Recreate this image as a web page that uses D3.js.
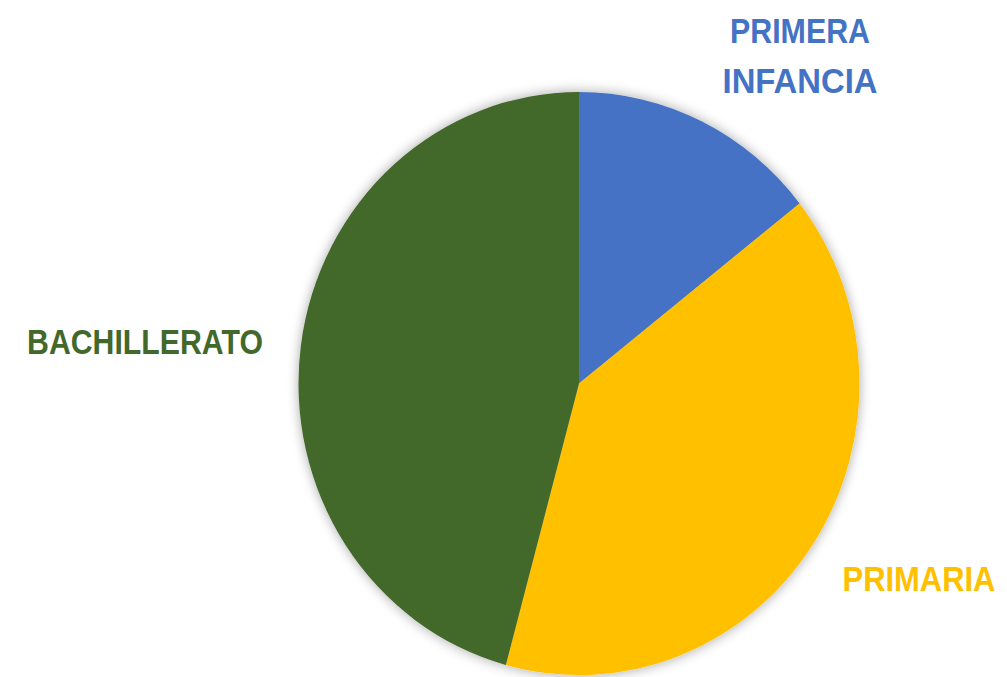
<!DOCTYPE html>
<html><head><meta charset="utf-8">
<script src="https://cdn.jsdelivr.net/npm/d3@7/dist/d3.min.js"></script>
<style>
html,body{margin:0;padding:0;background:#fff;}
svg{display:block;}
text{font-family:"Liberation Sans",Arial,sans-serif;font-weight:bold;}
</style></head>
<body>
<svg id="chart" width="1007" height="677"></svg>
<script>
const categories = ["PRIMERA INFANCIA", "PRIMARIA", "BACHILLERATO"];
const values = [14.4, 39.8, 45.8];
const colors = ["#4472C4", "#FFC000", "#43682B"];
const labelLines = [["PRIMERA", "INFANCIA"], ["PRIMARIA"], ["BACHILLERATO"]];

const svg = d3.select("#chart");
const cx = 579, cy = 383.5, r = 280.5, sy = 291.5 / 280.5;

const defs = svg.append("defs");
const f = defs.append("filter").attr("id", "sh").attr("x", "-20%").attr("y", "-20%").attr("width", "140%").attr("height", "140%");
f.append("feGaussianBlur").attr("in", "SourceAlpha").attr("stdDeviation", 6).attr("result", "b");
f.append("feComponentTransfer").attr("in", "b").attr("result", "c")
  .append("feFuncA").attr("type", "linear").attr("slope", 0.35);
const m = f.append("feMerge");
m.append("feMergeNode").attr("in", "c");
m.append("feMergeNode").attr("in", "SourceGraphic");

const pie = d3.pie().sort(null).value(d => d)(values);
const arc = d3.arc().innerRadius(0).outerRadius(r);

const g = svg.append("g").attr("transform", `translate(${cx},${cy}) scale(1,${sy})`).attr("filter", "url(#sh)");
g.selectAll("path").data(pie).join("path")
  .attr("d", arc)
  .attr("fill", (d, i) => colors[i]);

// label positions (center x, baselines, target widths)
const labelPos = [
  {x: 800, ys: [43, 93], widths: [140, 155]},
  {x: 919, ys: [591], widths: [153]},
  {x: 145, ys: [354], widths: [236]}
];
labelLines.forEach((lines, i) => {
  lines.forEach((t, j) => {
    const txt = svg.append("text")
      .attr("x", 0)
      .attr("y", 0)
      .attr("text-anchor", "middle")
      .attr("font-size", 36)
      .attr("fill", colors[i])
      .text(t);
    const len = txt.node().getComputedTextLength();
    const k = labelPos[i].widths[j] / len;
    txt.attr("transform", `translate(${labelPos[i].x},${labelPos[i].ys[j]}) scale(${k},1)`);
  });
});
</script>
</body></html>
